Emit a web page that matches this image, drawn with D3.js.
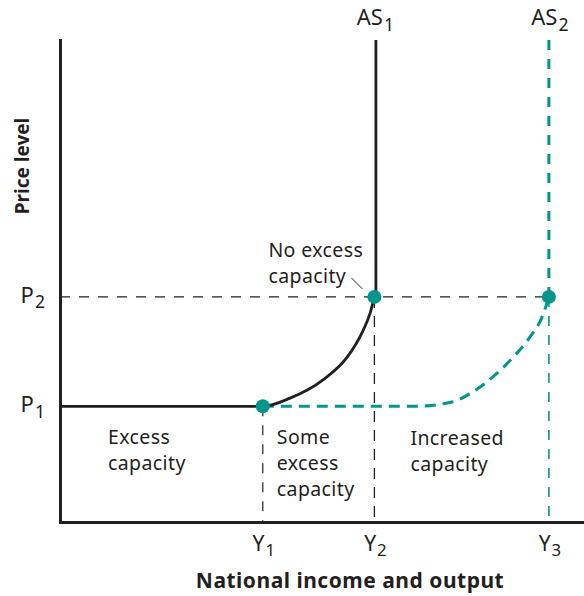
<!DOCTYPE html>
<html>
<head>
<meta charset="utf-8">
<script src="https://cdn.jsdelivr.net/npm/d3@7"></script>
<style>
  body { margin: 0; background: #fff; }
  svg text { font-family: "Noto Sans", "Open Sans", sans-serif; fill: #231f20; }
</style>
</head>
<body>
<svg id="chart" width="584" height="596"></svg>
<script>
// Output levels on the horizontal axis (Y1, Y2, Y3)
const outputLevels = [3.87, 6.0, 9.33];
const outputSubs = ["1", "2", "3"];
// Price levels on the vertical axis (P1, P2)
const priceLevels = [24, 46.7];
const priceSubs = ["1", "2"];

// Original aggregate supply AS1: flat, then bending, then vertical
const as1X = [0, 3.87, 4.39, 5.02, 5.48, 5.76, 5.92, 6.0];
const as1Y = [24, 24, 25.7, 29.5, 34.2, 39.2, 43.4, 46.7];
// Expanded aggregate supply AS2
const as2X = [3.87, 6.77, 7.48, 7.88, 8.26, 8.65, 8.97, 9.20, 9.33];
const as2Y = [24, 24, 24.9, 27.0, 30.1, 34.2, 38.4, 42.5, 46.7];
const verticalTop = 100;

const curveLabels = ["AS", "AS"];
const curveSubs = ["1", "2"];

const ink = "#231f20";
const teal = "#00968c";

const svg = d3.select("#chart");
const x = d3.scaleLinear().domain([0, 10]).range([60, 584]);
const y = d3.scaleLinear().domain([0, 100]).range([522, 40]);

const [Y1, Y2, Y3] = outputLevels;
const [P1, P2] = priceLevels;

// guide lines
const guides = svg.append("g").attr("fill", "none");
guides.append("line")
  .attr("x1", x(0)).attr("x2", x(Y3)).attr("y1", y(P2)).attr("y2", y(P2))
  .attr("stroke", ink).attr("stroke-width", 1.3).attr("stroke-dasharray", "10,9");
guides.append("line")
  .attr("x1", x(Y1)).attr("x2", x(Y1)).attr("y1", y(P1)).attr("y2", y(0))
  .attr("stroke", ink).attr("stroke-width", 1.2).attr("stroke-dasharray", "10,9");
guides.append("line")
  .attr("x1", x(Y2)).attr("x2", x(Y2)).attr("y1", y(P2)).attr("y2", y(0))
  .attr("stroke", ink).attr("stroke-width", 1.3).attr("stroke-dasharray", "11,8");
guides.append("line")
  .attr("x1", x(Y3)).attr("x2", x(Y3)).attr("y1", y(P2)).attr("y2", y(0))
  .attr("stroke", teal).attr("stroke-width", 1.6).attr("stroke-dasharray", "10,9");

// axes (lines only)
const axisX = svg.append("g").attr("transform", `translate(0,${y(0)})`)
  .call(d3.axisBottom(x).tickValues([]).tickSizeOuter(0));
const axisY = svg.append("g").attr("transform", `translate(${x(0)},0)`)
  .call(d3.axisLeft(y).tickValues([]).tickSizeOuter(0));
[axisX, axisY].forEach(g => g.select(".domain")
  .attr("stroke", ink).attr("stroke-width", 3).attr("stroke-linecap", "square"));

const line = d3.line().x(d => x(d[0])).y(d => y(d[1])).curve(d3.curveMonotoneX);

// AS2 (dashed teal)
svg.append("path")
  .datum(as2X.map((v, i) => [v, as2Y[i]]))
  .attr("d", line).attr("fill", "none").attr("stroke", teal)
  .attr("stroke-width", 3).attr("stroke-dasharray", "11,7");
svg.append("path")
  .datum([[Y3, P2], [Y3, verticalTop]])
  .attr("d", d3.line().x(d => x(d[0])).y(d => y(d[1])))
  .attr("fill", "none").attr("stroke", teal)
  .attr("stroke-width", 3).attr("stroke-dasharray", "10,9");

// AS1 (solid)
svg.append("path")
  .datum(as1X.map((v, i) => [v, as1Y[i]]))
  .attr("d", line).attr("fill", "none").attr("stroke", ink).attr("stroke-width", 2.8);
svg.append("path")
  .datum([[Y2, P2], [Y2, verticalTop]])
  .attr("d", d3.line().x(d => x(d[0]) + 1.5).y(d => y(d[1])))
  .attr("fill", "none").attr("stroke", ink).attr("stroke-width", 2.8);

// leader for the "No excess capacity" note
svg.append("line")
  .attr("x1", x(Y2) - 23).attr("y1", y(P2) - 19)
  .attr("x2", x(Y2) - 12).attr("y2", y(P2) - 8)
  .attr("stroke", ink).attr("stroke-width", 1);

// equilibrium points
const points = [[Y1, P1], [Y2, P2], [Y3, P2]];
svg.append("g").selectAll("circle").data(points).join("circle")
  .attr("cx", d => x(d[0])).attr("cy", d => y(d[1])).attr("r", 7)
  .attr("fill", teal);

// label with subscript
function subLabel(g, tx, ty, main, sub, anchor, size) {
  const t = g.append("text").attr("x", tx).attr("y", ty)
    .attr("text-anchor", anchor).attr("font-size", size);
  t.append("tspan").text(main);
  t.append("tspan").attr("dx", 1).attr("dy", size * 0.25).attr("font-size", size * 0.8).text(sub);
  return t;
}

const labels = svg.append("g");
outputLevels.forEach((v, i) =>
  subLabel(labels, x(v) + 1, y(0) + 29, "Y", outputSubs[i], "middle", 21));
priceLevels.forEach((v, i) =>
  subLabel(labels, 45, y(v) + 6, "P", priceSubs[i], "end", 22));
[Y2, Y3].forEach((v, i) =>
  subLabel(labels, x(v) + 1, 25, curveLabels[i], curveSubs[i], "middle", 22));

// axis titles
svg.append("text")
  .attr("x", 350).attr("y", 588)
  .attr("text-anchor", "middle").attr("font-size", 21).attr("font-weight", "bold")
  .attr("letter-spacing", 0.5)
  .text("National income and output");
svg.append("text")
  .attr("transform", `translate(29,166) rotate(-90)`)
  .attr("text-anchor", "middle").attr("font-size", 19).attr("font-weight", "bold")
  .text("Price level");

// region notes
function note(tx, ty, lines) {
  const t = svg.append("text").attr("x", tx).attr("y", ty)
    .attr("font-size", 19.5).attr("letter-spacing", 0.4);
  lines.forEach((s, i) => t.append("tspan").attr("x", tx).attr("dy", i ? 26 : 0).text(s));
}
note(x(0) + 48, y(P1) + 38, ["Excess", "capacity"]);
note(x(Y1) + 14, y(P1) + 38, ["Some", "excess", "capacity"]);
note(x(Y2) + 36, y(P1) + 39, ["Increased", "capacity"]);
note(x(Y2) - 106, y(P2) - 40, ["No excess", "capacity"]);
</script>
</body>
</html>
